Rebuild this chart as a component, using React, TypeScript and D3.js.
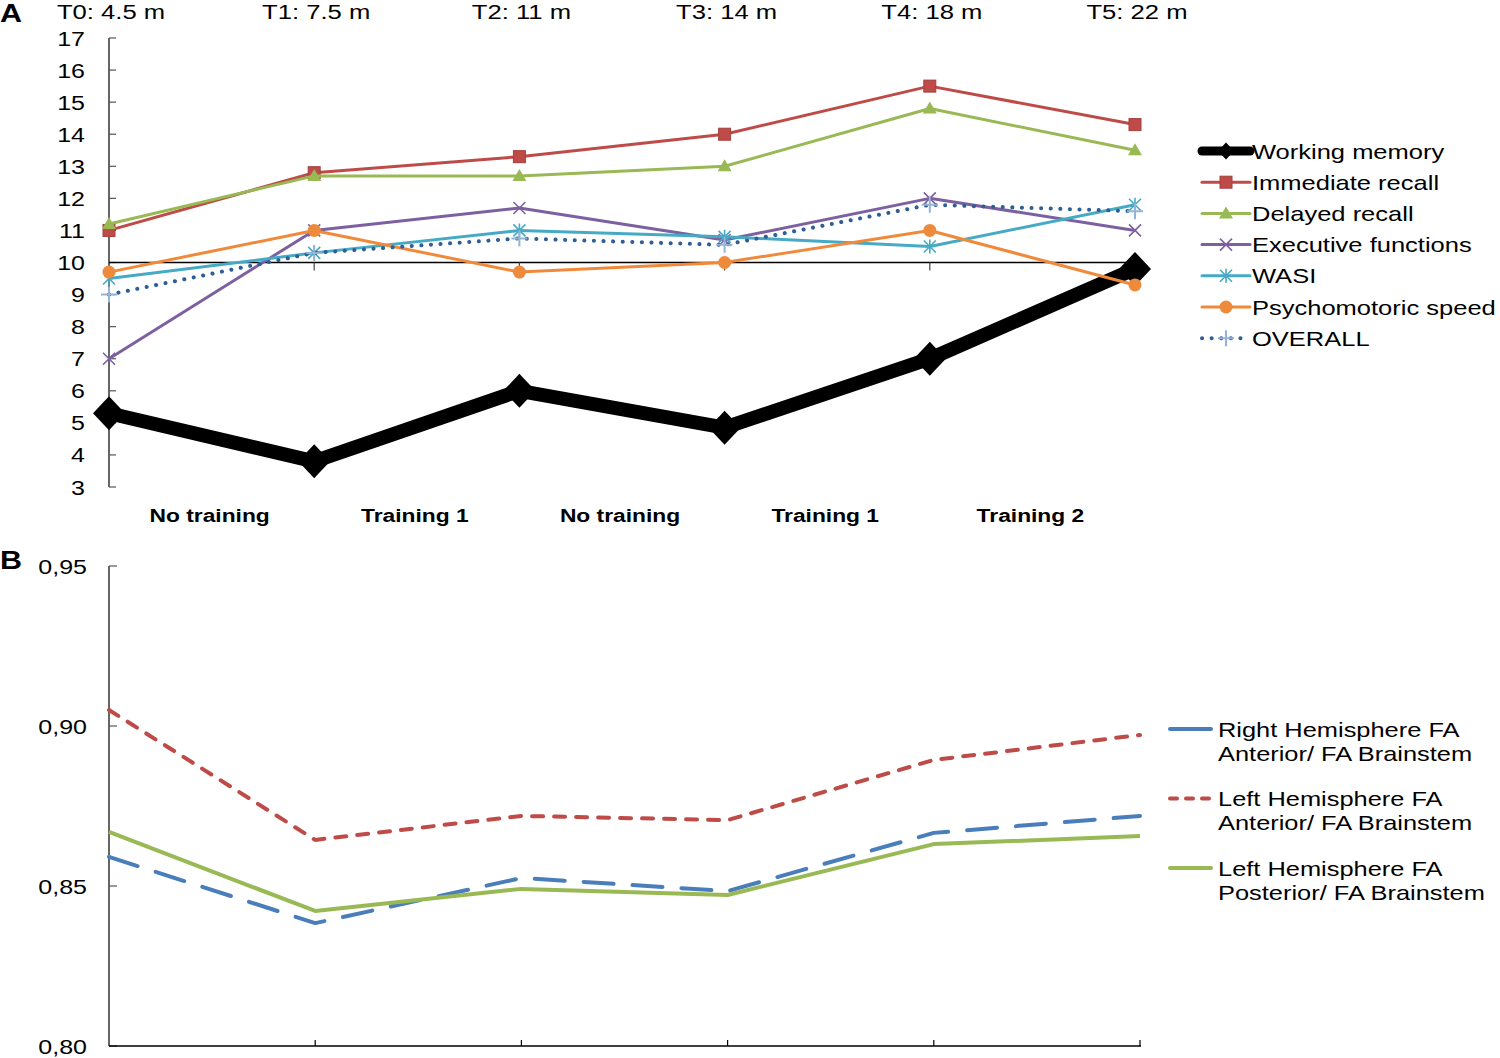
import React, { useRef, useEffect } from 'react';
import * as d3 from 'd3';

// Panel A data
const timePoints = ['T0: 4.5 m', 'T1: 7.5 m', 'T2: 11 m', 'T3: 14 m', 'T4: 18 m', 'T5: 22 m'];
const phases = ['No training', 'Training 1', 'No training', 'Training 1', 'Training 2'];
const ticksA = [3, 4, 5, 6, 7, 8, 9, 10, 11, 12, 13, 14, 15, 16, 17];

const workingMemory = [5.3, 3.8, 6.0, 4.85, 7.0, 9.8];
const immediateRecall = [11.0, 12.8, 13.3, 14.0, 15.5, 14.3];
const delayedRecall = [11.2, 12.7, 12.7, 13.0, 14.8, 13.5];
const executiveFunctions = [7.0, 11.0, 11.7, 10.7, 12.0, 11.0];
const wasi = [9.5, 10.3, 11.0, 10.8, 10.5, 11.8];
const psychomotoricSpeed = [9.7, 11.0, 9.7, 10.0, 11.0, 9.3];
const overall = [9.0, 10.3, 10.75, 10.55, 11.8, 11.6];

// Panel B data
const ticksB = [0.8, 0.85, 0.9, 0.95];
const rightAnterior = [0.8591, 0.8384, 0.8525, 0.8484, 0.8666, 0.8719];
const leftAnterior = [0.905, 0.8644, 0.8719, 0.8706, 0.8894, 0.8972];
const leftPosterior = [0.8669, 0.8422, 0.8491, 0.8472, 0.8631, 0.8656];

type Marker = 'diamond' | 'square' | 'triangle' | 'x' | 'asterisk' | 'circle' | 'plus';

const seriesA: { name: string; values: number[]; color: string; width: number; marker: Marker; markerColor: string; dash?: string }[] = [
  { name: 'Working memory', values: workingMemory, color: '#000000', width: 14, marker: 'diamond', markerColor: '#000000' },
  { name: 'Immediate recall', values: immediateRecall, color: '#BE4B48', width: 3, marker: 'square', markerColor: '#BE4B48' },
  { name: 'Delayed recall', values: delayedRecall, color: '#98B954', width: 3, marker: 'triangle', markerColor: '#98B954' },
  { name: 'Executive functions', values: executiveFunctions, color: '#7D60A0', width: 3, marker: 'x', markerColor: '#7D60A0' },
  { name: 'WASI', values: wasi, color: '#46AAC5', width: 3, marker: 'asterisk', markerColor: '#46AAC5' },
  { name: 'Psychomotoric speed', values: psychomotoricSpeed, color: '#F08A3A', width: 3, marker: 'circle', markerColor: '#EE8A3C' },
  { name: 'OVERALL', values: overall, color: '#2E5E96', width: 4, marker: 'plus', markerColor: '#95B3D7', dash: '0.1,9.5' },
];

const seriesB = [
  { name: ['Right Hemisphere FA', 'Anterior/ FA Brainstem'], values: rightAnterior, color: '#4A7EBB', dash: '30,19', legendDash: '' },
  { name: ['Left Hemisphere FA', 'Anterior/ FA Brainstem'], values: leftAnterior, color: '#BE4B48', dash: '11,11', legendDash: '7,9' },
  { name: ['Left Hemisphere FA', 'Posterior/ FA Brainstem'], values: leftPosterior, color: '#98B954', dash: '', legendDash: '' },
];

const SX = 1.22;
const FONT = "'Liberation Sans', Arial, sans-serif";

const App: React.FC = () => {
  const svgRef = useRef<SVGSVGElement>(null);

  useEffect(() => {
    if (!svgRef.current) return;
    const svg = d3.select(svgRef.current);
    svg.selectAll('*').remove();

    const label = (x: number, y: number, text: string, size: number, anchor = 'start', weight = 400, sx = SX) =>
      svg.append('text')
        .attr('transform', `translate(${x},${y}) scale(${sx},1)`)
        .attr('text-anchor', anchor)
        .attr('font-family', FONT)
        .attr('font-size', size)
        .attr('font-weight', weight)
        .attr('fill', '#000')
        .text(text);

    const drawMarker = (g: d3.Selection<SVGGElement, unknown, null, undefined>, m: Marker, x: number, y: number, color: string, scale = 1) => {
      const s = scale;
      if (m === 'diamond') {
        g.append('path').attr('d', `M${x},${y - 17 * s}L${x + 16 * s},${y}L${x},${y + 17 * s}L${x - 16 * s},${y}Z`).attr('fill', color);
      } else if (m === 'square') {
        g.append('rect').attr('x', x - 6 * s).attr('y', y - 6 * s).attr('width', 12 * s).attr('height', 12 * s)
          .attr('fill', color).attr('stroke', '#A3403D').attr('stroke-width', 1);
      } else if (m === 'triangle') {
        g.append('path').attr('d', `M${x},${y - 7 * s}L${x + 7 * s},${y + 5 * s}L${x - 7 * s},${y + 5 * s}Z`).attr('fill', color);
      } else if (m === 'circle') {
        g.append('circle').attr('cx', x).attr('cy', y).attr('r', 6.5 * s).attr('fill', color);
      } else {
        const r = 6 * s;
        const p = d3.path();
        if (m === 'x' || m === 'asterisk') {
          p.moveTo(x - r, y - r); p.lineTo(x + r, y + r);
          p.moveTo(x - r, y + r); p.lineTo(x + r, y - r);
        }
        if (m === 'asterisk') {
          p.moveTo(x, y - r - 1); p.lineTo(x, y + r + 1);
        }
        if (m === 'plus') {
          p.moveTo(x - 8 * s, y); p.lineTo(x + 8 * s, y);
          p.moveTo(x, y - 8 * s); p.lineTo(x, y + 8 * s);
        }
        g.append('path').attr('d', p.toString()).attr('fill', 'none').attr('stroke', color).attr('stroke-width', m === 'plus' ? 2 : 1.6);
      }
    };

    // ---------- Panel A ----------
    const xA = d3.scalePoint<number>().domain(d3.range(timePoints.length)).range([109, 1135]);
    const yA = d3.scaleLinear().domain([3, 17]).range([487, 38]);

    label(0, 22, 'A', 25, 'start', 700);
    timePoints.forEach((t, i) => label(xA(i)! + 2, 19, t, 20.5, 'middle', 400, 1.25));

    const axA = svg.append('g');
    axA.append('line').attr('x1', 109).attr('x2', 109).attr('y1', yA(17)).attr('y2', yA(3)).attr('stroke', '#000').attr('stroke-width', 1.2);
    ticksA.forEach(t => {
      axA.append('line').attr('x1', 109).attr('x2', 116).attr('y1', yA(t)).attr('y2', yA(t)).attr('stroke', '#555').attr('stroke-width', 1.2);
      label(85, yA(t) + 7.5, String(t), 20.5, 'end');
    });
    axA.append('line').attr('x1', 109).attr('x2', 1140).attr('y1', yA(10)).attr('y2', yA(10)).attr('stroke', '#000').attr('stroke-width', 1.4);
    timePoints.forEach((_, i) => {
      if (i === 0) return;
      axA.append('line').attr('x1', xA(i)!).attr('x2', xA(i)!).attr('y1', yA(10)).attr('y2', yA(10) + 8).attr('stroke', '#444').attr('stroke-width', 1.2);
    });
    phases.forEach((p, i) => label((xA(i)! + xA(i + 1)!) / 2 - 2, 522, p, 19, 'middle', 700, 1.2));

    const lineA = d3.line<number>().x((_, i) => xA(i)!).y(d => yA(d));
    seriesA.forEach(s => {
      const g = svg.append('g');
      g.append('path').attr('d', lineA(s.values)!).attr('fill', 'none').attr('stroke', s.color)
        .attr('stroke-width', s.width).attr('stroke-linejoin', 'round')
        .attr('stroke-linecap', s.dash ? 'round' : 'butt')
        .attr('stroke-dasharray', s.dash ?? null);
      s.values.forEach((v, i) => drawMarker(g, s.marker, xA(i)!, yA(v), s.markerColor));
    });

    // Legend A
    seriesA.forEach((s, i) => {
      const y = 151 + i * 31.2;
      const g = svg.append('g');
      g.append('line').attr('x1', 1202).attr('x2', 1250).attr('y1', y).attr('y2', y).attr('stroke', s.color)
        .attr('stroke-width', s.width > 5 ? 9 : s.width).attr('stroke-linecap', 'round')
        .attr('stroke-dasharray', s.dash ?? null);
      drawMarker(g, s.marker, 1226, y, s.markerColor, s.marker === 'diamond' ? 0.5 : 1);
      label(1252, y + 7.5, s.name, 20.5, 'start', 400, 1.245);
    });

    // ---------- Panel B ----------
    const xB = d3.scalePoint<number>().domain(d3.range(timePoints.length)).range([109, 1140]);
    const yB = d3.scaleLinear().domain([0.8, 0.95]).range([1046, 566]);

    label(0, 569, 'B', 25, 'start', 700);
    const axB = svg.append('g');
    axB.append('line').attr('x1', 109).attr('x2', 109).attr('y1', yB(0.95)).attr('y2', yB(0.8)).attr('stroke', '#000').attr('stroke-width', 1.2);
    ticksB.forEach(t => {
      axB.append('line').attr('x1', 109).attr('x2', 117).attr('y1', yB(t)).attr('y2', yB(t)).attr('stroke', '#555').attr('stroke-width', 1.2);
      label(87, yB(t) + 7.5, d3.format('.2f')(t).replace('.', ','), 20.5, 'end');
    });
    axB.append('line').attr('x1', 109).attr('x2', 1141).attr('y1', yB(0.8)).attr('y2', yB(0.8)).attr('stroke', '#000').attr('stroke-width', 1.4);
    timePoints.forEach((_, i) => {
      if (i === 0) return;
      axB.append('line').attr('x1', xB(i)!).attr('x2', xB(i)!).attr('y1', yB(0.8)).attr('y2', yB(0.8) - 6).attr('stroke', '#000').attr('stroke-width', 1.2);
    });

    const lineB = d3.line<number>().x((_, i) => xB(i)!).y(d => yB(d));
    seriesB.forEach(s => {
      svg.append('path').attr('d', lineB(s.values)!).attr('fill', 'none').attr('stroke', s.color)
        .attr('stroke-width', 4).attr('stroke-linejoin', 'round')
        .attr('stroke-linecap', s.dash ? 'round' : 'butt')
        .attr('stroke-dasharray', s.dash || null);
    });

    // Legend B
    seriesB.forEach((s, i) => {
      const y = 729 + i * 69.5;
      svg.append('line').attr('x1', 1170).attr('x2', 1211).attr('y1', y).attr('y2', y).attr('stroke', s.color)
        .attr('stroke-width', 4).attr('stroke-linecap', 'round')
        .attr('stroke-dasharray', s.legendDash || null);
      s.name.forEach((n, j) => label(1218, y + 7.5 + j * 24, n, 20.5, 'start', 400, 1.24));
    });
  }, []);

  return (
    <div style={{ position: 'absolute', left: 0, top: 0 }}>
      <svg ref={svgRef} width={1500} height={1058} style={{ display: 'block', background: '#fff' }} />
    </div>
  );
};

export default App;
